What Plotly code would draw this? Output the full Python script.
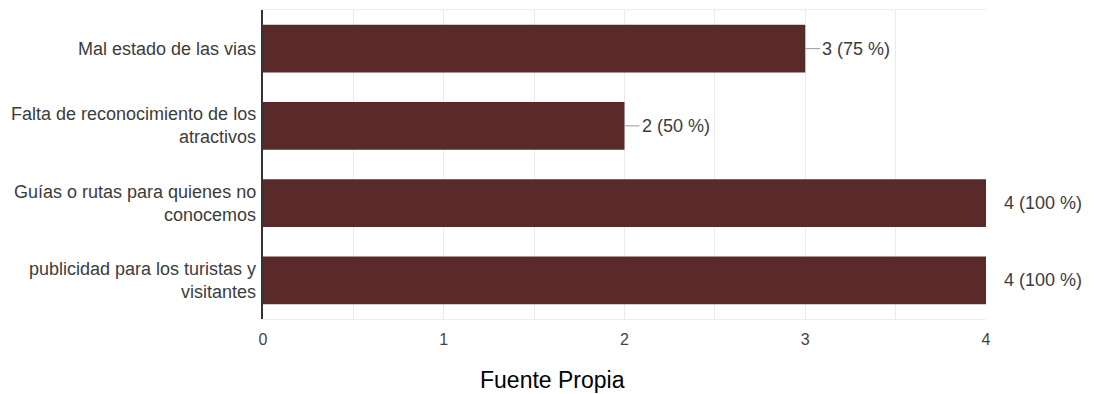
import plotly.graph_objects as go

# Survey answers (count of respondents) and the total used for percentages
categories = [
    ["Mal estado de las vias"],
    ["Falta de reconocimiento de los", "atractivos"],
    ["Guías o rutas para quienes no", "conocemos"],
    ["publicidad para los turistas y", "visitantes"],
]
counts = [3, 2, 4, 4]
total = 4
x_ticks = [0, 1, 2, 3, 4]
source_note = "Fuente Propia"

bar_color = "#5A2A2B"
text_color = "#3c3c3c"
font_family = "Liberation Sans, Arial, sans-serif"

cat_keys = [" ".join(c) for c in categories]

fig = go.Figure(
    go.Bar(
        x=counts,
        y=cat_keys,
        orientation="h",
        marker=dict(color=bar_color, line=dict(width=0)),
        width=0.62,
        hoverinfo="skip",
    )
)

annotations = []

# Category labels, one annotation per wrapped line for wider line spacing
line_gap = 23
for key, lines in zip(cat_keys, categories):
    n = len(lines)
    for i, line in enumerate(lines):
        offset = (i - (n - 1) / 2) * line_gap
        annotations.append(dict(
            xref="paper", yref="y", x=0, y=key,
            text=line, showarrow=False,
            xanchor="right", yanchor="middle",
            xshift=-5, yshift=-offset,
            font=dict(family=font_family, size=18, color=text_color),
        ))

# Value labels with a short leader line from the end of each bar
max_count = max(counts)
for key, v in zip(cat_keys, counts):
    pct = round(100 * v / total)
    annotations.append(dict(
        xref="x", yref="y", x=v, y=key,
        text=f"{v} ({pct} %)",
        showarrow=True, arrowhead=0, arrowwidth=1,
        arrowcolor="#9a9a9a" if v < max_count else "rgba(0,0,0,0)",
        ax=15 if v < max_count else 16, ay=0,
        xanchor="left", yanchor="middle",
        font=dict(family=font_family, size=18, color=text_color),
    ))

# Source note under the chart
annotations.append(dict(
    xref="paper", yref="paper", x=0.401, y=-0.197,
    text=source_note, showarrow=False,
    xanchor="center", yanchor="middle",
    font=dict(family=font_family, size=23, color="#000000"),
))

fig.update_layout(
    width=1094, height=394,
    margin=dict(l=263, r=108, t=10, b=75),
    paper_bgcolor="white", plot_bgcolor="white",
    showlegend=False,
    annotations=annotations,
    bargap=0.38,
)

fig.update_xaxes(
    range=[0, max(x_ticks)],
    tickvals=x_ticks,
    ticktext=[str(t) for t in x_ticks],
    showgrid=True, gridcolor="#ebebeb", gridwidth=1,
    minor=dict(dtick=0.5, showgrid=True, gridcolor="#ebebeb", gridwidth=1),
    zeroline=False,
    showline=True, linecolor="#ededed", linewidth=1, mirror=True,
    ticks="", ticklabelstandoff=6,
    tickfont=dict(family=font_family, size=16, color="#444444"),
    fixedrange=True,
)

fig.update_yaxes(
    categoryorder="array", categoryarray=cat_keys,
    autorange="reversed",
    showticklabels=False,
    showgrid=False, zeroline=False,
    showline=True, linecolor="#333333", linewidth=1.5,
    ticks="",
    fixedrange=True,
)

fig.write_html("out.html", config={"displayModeBar": False})
